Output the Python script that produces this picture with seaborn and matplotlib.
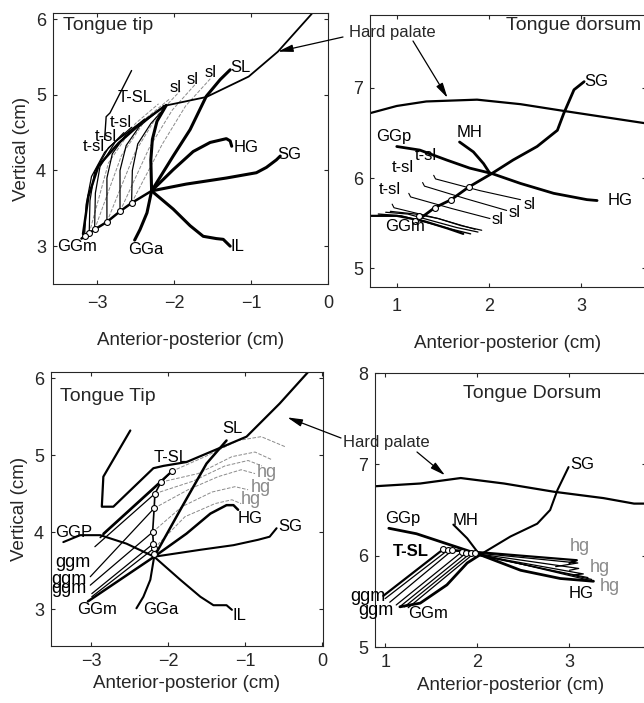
import matplotlib
matplotlib.use("Agg")
import matplotlib.pyplot as plt
import seaborn as sns

# ======================= TOP-LEFT : Tongue tip =======================
TL_PALATE_X = [-0.21, -0.65, -1.03, -1.58, -2.14]
TL_PALATE_Y = [6.07, 5.57, 5.24, 4.97, 4.85]
TL_INCISOR_X = [-2.55, -2.83, -2.88, -2.90]
TL_INCISOR_Y = [5.32, 4.76, 4.71, 4.41]
TL_TIP_X = [-3.18, -3.11, -2.98, -2.72, -2.42, -2.12]
TL_TIP_Y = [3.16, 3.66, 4.06, 4.36, 4.63, 4.85]
TL_GGA_X = [-2.10, -2.22, -2.28, -2.30, -2.29, -2.35, -2.44, -2.51]
TL_GGA_Y = [4.86, 4.65, 4.41, 4.14, 3.73, 3.44, 3.22, 3.08]
TL_GGM_X = [-2.29, -2.55, -2.70, -2.87, -3.03, -3.10, -3.16, -3.20]
TL_GGM_Y = [3.73, 3.57, 3.46, 3.32, 3.22, 3.17, 3.13, 3.10]
TL_SL_X = [-2.29, -2.01, -1.79, -1.58, -1.40, -1.27]
TL_SL_Y = [3.73, 4.19, 4.54, 4.98, 5.20, 5.33]
TL_HG_X = [-2.29, -2.01, -1.75, -1.53, -1.32, -1.27, -1.25]
TL_HG_Y = [3.73, 4.01, 4.25, 4.37, 4.42, 4.39, 4.32]
TL_SG_X = [-2.29, -1.84, -1.32, -0.93, -0.80, -0.67, -0.62]
TL_SG_Y = [3.73, 3.82, 3.90, 3.97, 4.04, 4.14, 4.19]
TL_IL_X = [-2.29, -2.01, -1.79, -1.62, -1.45, -1.36, -1.27]
TL_IL_Y = [3.73, 3.49, 3.27, 3.13, 3.10, 3.09, 3.00]
TL_MARK_X = [-2.55, -2.70, -2.87, -3.03, -3.10, -3.16]
TL_MARK_Y = [3.57, 3.46, 3.32, 3.22, 3.17, 3.13]
# t-sl curves (black, thin)
TL_TSL1_X = [-2.55, -2.54, -2.47, -2.30, -2.14]
TL_TSL1_Y = [3.57, 4.00, 4.35, 4.62, 4.80]
TL_TSL2_X = [-2.70, -2.70, -2.62, -2.45, -2.25]
TL_TSL2_Y = [3.46, 4.00, 4.33, 4.58, 4.75]
TL_TSL3_X = [-2.87, -2.87, -2.80, -2.62, -2.38]
TL_TSL3_Y = [3.32, 3.90, 4.22, 4.48, 4.68]
TL_TSL4_X = [-3.03, -3.02, -2.96, -2.76, -2.45]
TL_TSL4_Y = [3.22, 3.70, 4.05, 4.38, 4.62]
TL_TSL5_X = [-3.10, -3.09, -3.03, -2.85, -2.55]
TL_TSL5_Y = [3.17, 3.60, 3.98, 4.30, 4.57]
TL_TSL6_X = [-3.16, -3.14, -3.07, -2.90, -2.65]
TL_TSL6_Y = [3.13, 3.55, 3.92, 4.24, 4.50]
# sl curves (grey, dashed)
TL_DSL1_X = [-2.55, -2.15, -1.85, -1.52]
TL_DSL1_Y = [3.57, 4.35, 4.85, 5.22]
TL_DSL2_X = [-2.70, -2.32, -2.02, -1.73]
TL_DSL2_Y = [3.46, 4.30, 4.80, 5.13]
TL_DSL3_X = [-2.87, -2.50, -2.20, -1.92]
TL_DSL3_Y = [3.32, 4.25, 4.75, 5.05]
TL_DSL4_X = [-3.03, -2.68, -2.35, -2.05]
TL_DSL4_Y = [3.22, 4.20, 4.70, 4.95]
TL_DSL5_X = [-3.10, -2.85, -2.50, -2.20]
TL_DSL5_Y = [3.17, 4.10, 4.62, 4.88]

# ======================= TOP-RIGHT : Tongue dorsum =======================
TR_PALATE_X = [0.71, 1.00, 1.32, 1.87, 2.34, 2.84, 3.68]
TR_PALATE_Y = [6.72, 6.80, 6.85, 6.87, 6.82, 6.74, 6.61]
TR_SG_X = [1.20, 1.41, 1.59, 1.78, 2.03, 2.26, 2.52, 2.74, 2.81, 2.92, 3.03]
TR_SG_Y = [5.51, 5.67, 5.76, 5.90, 6.05, 6.20, 6.35, 6.53, 6.72, 6.98, 7.07]
TR_GGP_X = [1.00, 1.25, 1.54, 1.79, 2.03, 2.34, 2.70, 3.06, 3.17]
TR_GGP_Y = [6.35, 6.31, 6.20, 6.11, 6.05, 5.94, 5.83, 5.76, 5.75]
TR_MH_X = [1.68, 1.83, 1.94, 2.01]
TR_MH_Y = [6.40, 6.29, 6.16, 6.05]
TR_MARK_X = [1.20, 1.24, 1.41, 1.59, 1.78]
TR_MARK_Y = [5.52, 5.58, 5.67, 5.76, 5.90]
TR_SL1_X = [1.40, 1.42, 1.90, 2.34]
TR_SL1_Y = [6.03, 5.99, 5.86, 5.76]
TR_SL2_X = [1.28, 1.30, 1.75, 2.19]
TR_SL2_Y = [5.95, 5.91, 5.77, 5.64]
TR_SL3_X = [1.13, 1.15, 1.60, 2.01]
TR_SL3_Y = [5.83, 5.79, 5.66, 5.55]
TR_SL4_X = [0.95, 0.97, 1.45, 1.85]
TR_SL4_Y = [5.71, 5.67, 5.55, 5.43]
TR_GGM1_X = [0.71, 1.00, 1.30, 1.55, 1.72]
TR_GGM1_Y = [5.58, 5.58, 5.52, 5.44, 5.38]
TR_GGM2_X = [0.80, 1.05, 1.35, 1.60, 1.80]
TR_GGM2_Y = [5.60, 5.58, 5.50, 5.43, 5.38]
TR_GGM3_X = [0.88, 1.12, 1.40, 1.65, 1.88]
TR_GGM3_Y = [5.62, 5.60, 5.52, 5.45, 5.40]
TR_GGM4_X = [0.93, 1.20, 1.45, 1.70, 1.92]
TR_GGM4_Y = [5.63, 5.60, 5.55, 5.47, 5.42]

# ======================= BOTTOM-LEFT : Tongue Tip =======================
BL_PALATE_X = [-0.18, -0.55, -0.98, -1.50, -1.76, -2.06, -2.19, -2.71, -2.86, -2.84, -2.49]
BL_PALATE_Y = [6.08, 5.67, 5.24, 5.02, 4.91, 4.86, 4.83, 4.33, 4.33, 4.72, 5.32]
BL_SL_X = [-2.18, -1.84, -1.50, -1.24]
BL_SL_Y = [3.68, 4.29, 4.89, 5.19]
BL_HG_X = [-2.18, -1.76, -1.45, -1.24, -1.15, -1.09]
BL_HG_Y = [3.68, 3.98, 4.24, 4.35, 4.35, 4.29]
BL_SG_X = [-2.18, -1.58, -1.15, -0.83, -0.68, -0.59]
BL_SG_Y = [3.68, 3.77, 3.83, 3.90, 3.94, 4.05]
BL_GGPIL_X = [-3.36, -3.14, -2.88, -2.54, -2.18, -1.84, -1.58, -1.41, -1.24, -1.17]
BL_GGPIL_Y = [3.87, 3.96, 3.96, 3.85, 3.68, 3.38, 3.16, 3.05, 3.05, 2.99]
BL_GGA_X = [-2.18, -2.23, -2.32, -2.41]
BL_GGA_Y = [3.68, 3.38, 3.16, 3.01]
BL_GGM_X = [-2.18, -3.04]
BL_GGM_Y = [3.68, 3.10]
BL_MARK_X = [-2.18, -2.18, -2.19, -2.20, -2.18, -2.17, -2.09, -1.95]
BL_MARK_Y = [3.72, 3.79, 3.85, 4.00, 4.31, 4.50, 4.65, 4.79]
BL_F1_X = [-2.84, -1.95]
BL_F1_Y = [3.98, 4.79]
BL_F2_X = [-2.88, -2.09]
BL_F2_Y = [3.93, 4.65]
BL_F3_X = [-2.95, -2.17]
BL_F3_Y = [3.81, 4.50]
BL_F4_X = [-3.01, -2.18]
BL_F4_Y = [3.42, 4.31]
BL_F5_X = [-3.01, -2.20]
BL_F5_Y = [3.31, 4.00]
BL_F6_X = [-2.99, -2.19]
BL_F6_Y = [3.20, 3.85]
BL_F7_X = [-2.99, -2.18]
BL_F7_Y = [3.16, 3.79]
BL_H1_X = [-1.95, -1.52, -1.09, -0.79, -0.48]
BL_H1_Y = [4.79, 4.98, 5.19, 5.24, 5.11]
BL_H2_X = [-2.09, -1.61, -1.17, -0.87, -0.65]
BL_H2_Y = [4.65, 4.76, 4.98, 5.04, 4.94]
BL_H3_X = [-2.17, -1.68, -1.26, -0.96, -0.78]
BL_H3_Y = [4.50, 4.66, 4.86, 4.93, 4.86]
BL_H4_X = [-2.18, -1.74, -1.35, -1.05, -0.87]
BL_H4_Y = [4.31, 4.55, 4.72, 4.81, 4.76]
BL_H5_X = [-2.20, -1.82, -1.43, -1.13, -0.96]
BL_H5_Y = [4.00, 4.33, 4.52, 4.59, 4.55]
BL_H6_X = [-2.18, -1.78, -1.39, -1.17, -1.05]
BL_H6_Y = [3.79, 4.20, 4.37, 4.42, 4.37]

# ======================= BOTTOM-RIGHT : Tongue Dorsum =======================
BR_PALATE_X = [0.89, 1.38, 1.82, 2.29, 2.83, 3.37, 3.70, 3.83]
BR_PALATE_Y = [6.76, 6.79, 6.85, 6.79, 6.70, 6.63, 6.57, 6.57]
BR_GGM_X = [1.16, 1.38, 1.67, 1.89, 2.03]
BR_GGM_Y = [5.44, 5.48, 5.68, 5.92, 6.01]
BR_SG_X = [2.03, 2.36, 2.65, 2.79, 2.87, 2.99]
BR_SG_Y = [6.01, 6.21, 6.35, 6.50, 6.72, 6.97]
BR_GGP_X = [1.04, 1.34, 1.67, 2.03, 2.47, 2.90, 3.26]
BR_GGP_Y = [6.30, 6.24, 6.13, 6.01, 5.84, 5.75, 5.72]
BR_MH_X = [1.74, 1.89, 2.01]
BR_MH_Y = [6.34, 6.19, 6.03]
BR_MARK_X = [1.63, 1.68, 1.73, 1.83, 1.88, 1.93, 1.97]
BR_MARK_Y = [6.07, 6.06, 6.06, 6.04, 6.03, 6.03, 6.03]
BR_L1_X = [0.98, 1.63, 3.08, 3.00]
BR_L1_Y = [5.56, 6.07, 5.95, 5.92]
BR_L2_X = [1.00, 1.68, 3.09, 2.85]
BR_L2_Y = [5.53, 6.06, 5.92, 5.88]
BR_L3_X = [1.05, 1.73, 3.10, 3.00]
BR_L3_Y = [5.49, 6.06, 5.86, 5.84]
BR_L4_X = [1.12, 1.83, 3.15, 3.05]
BR_L4_Y = [5.46, 6.04, 5.80, 5.79]
BR_L5_X = [1.17, 1.88, 3.20]
BR_L5_Y = [5.45, 6.03, 5.76]
BR_L6_X = [1.21, 1.93, 3.24]
BR_L6_Y = [5.44, 6.03, 5.74]
BR_L7_X = [1.25, 1.97, 3.26]
BR_L7_Y = [5.43, 6.03, 5.72]

# ---------------------------------------------------------------------------
sns.set_style("ticks")
plt.rcParams["font.family"] = ["Liberation Sans", "DejaVu Sans"]
plt.rcParams["xtick.direction"] = "in"
plt.rcParams["ytick.direction"] = "in"
plt.rcParams["xtick.top"] = True
plt.rcParams["ytick.right"] = True

W, H = 644, 703
fig = plt.figure(figsize=(W / 100, H / 100), dpi=100)


def axes_px(l, t, r, b):
    return fig.add_axes([l / W, 1 - b / H, (r - l) / W, (b - t) / H])


ax_tl = axes_px(53, 13, 328, 284)
ax_tr = axes_px(370, 15, 646, 287)
ax_bl = axes_px(51, 372, 323, 646)
ax_br = axes_px(375, 373, 646, 647)

GREY = "#8a8a8a"


def ln(ax, xs, ys, lw=1.0, color="k", ls="-", z=2):
    sns.lineplot(x=xs, y=ys, sort=False, estimator=None, color=color,
                 linewidth=lw, linestyle=ls, ax=ax, zorder=z)


def marks(ax, xs, ys):
    sns.scatterplot(x=xs, y=ys, s=18, facecolor="white", edgecolor="k",
                    linewidth=0.8, ax=ax, zorder=5)


def lab(ax, x, y, s, size=12, color="k", **kw):
    ax.text(x, y, s, fontsize=size, color=color, ha=kw.pop("ha", "left"),
            va=kw.pop("va", "center"), zorder=6, **kw)


# ---------------- TL ----------------
ax = ax_tl
for xs, ys in [(TL_DSL1_X, TL_DSL1_Y), (TL_DSL2_X, TL_DSL2_Y), (TL_DSL3_X, TL_DSL3_Y),
               (TL_DSL4_X, TL_DSL4_Y), (TL_DSL5_X, TL_DSL5_Y)]:
    ln(ax, xs, ys, lw=0.7, color=GREY, ls="--", z=1)
for xs, ys in [(TL_TSL1_X, TL_TSL1_Y), (TL_TSL2_X, TL_TSL2_Y), (TL_TSL3_X, TL_TSL3_Y),
               (TL_TSL4_X, TL_TSL4_Y), (TL_TSL5_X, TL_TSL5_Y), (TL_TSL6_X, TL_TSL6_Y)]:
    ln(ax, xs, ys, lw=0.9)
ln(ax, TL_PALATE_X, TL_PALATE_Y, lw=1.3)
ln(ax, TL_INCISOR_X, TL_INCISOR_Y, lw=1.0)
ln(ax, TL_TIP_X, TL_TIP_Y, lw=1.8)
ln(ax, TL_GGA_X, TL_GGA_Y, lw=2.2)
ln(ax, TL_GGM_X, TL_GGM_Y, lw=1.8)
ln(ax, TL_SL_X, TL_SL_Y, lw=2.2)
ln(ax, TL_HG_X, TL_HG_Y, lw=2.2)
ln(ax, TL_SG_X, TL_SG_Y, lw=2.2)
ln(ax, TL_IL_X, TL_IL_Y, lw=2.2)
marks(ax, TL_MARK_X, TL_MARK_Y)
ax.text(0.036, 0.955, "Tongue tip", transform=ax.transAxes, fontsize=14, va="center")
lab(ax, -2.73, 4.97, "T-SL")
lab(ax, -2.83, 4.63, "t-sl")
lab(ax, -3.03, 4.45, "t-sl")
lab(ax, -3.18, 4.32, "t-sl")
lab(ax, -2.05, 5.10, "sl")
lab(ax, -1.83, 5.20, "sl")
lab(ax, -1.60, 5.29, "sl")
lab(ax, -1.27, 5.36, "SL")
lab(ax, -1.23, 4.30, "HG")
lab(ax, -0.66, 4.21, "SG")
lab(ax, -1.27, 2.99, "IL")
lab(ax, -3.52, 3.00, "GGm")
lab(ax, -2.60, 2.95, "GGa")
ax.set_xlim(-3.57, 0)
ax.set_ylim(2.5, 6.08)

# ---------------- TR ----------------
ax = ax_tr
ln(ax, TR_PALATE_X, TR_PALATE_Y, lw=1.6)
for xs, ys in [(TR_SL1_X, TR_SL1_Y), (TR_SL2_X, TR_SL2_Y), (TR_SL3_X, TR_SL3_Y), (TR_SL4_X, TR_SL4_Y)]:
    ln(ax, xs, ys, lw=0.8)
for xs, ys, w in [(TR_GGM1_X, TR_GGM1_Y, 1.6), (TR_GGM2_X, TR_GGM2_Y, 1.0),
                  (TR_GGM3_X, TR_GGM3_Y, 0.9), (TR_GGM4_X, TR_GGM4_Y, 0.9)]:
    ln(ax, xs, ys, lw=w)
ln(ax, TR_SG_X, TR_SG_Y, lw=2.0)
ln(ax, TR_GGP_X, TR_GGP_Y, lw=2.0)
ln(ax, TR_MH_X, TR_MH_Y, lw=2.0)
marks(ax, TR_MARK_X, TR_MARK_Y)
ax.text(0.982, 0.963, "Tongue dorsum", transform=ax.transAxes, fontsize=14,
        va="center", ha="right")
lab(ax, 3.03, 7.07, "SG")
lab(ax, 0.78, 6.46, "GGp")
lab(ax, 1.65, 6.51, "MH")
lab(ax, 3.28, 5.75, "HG")
lab(ax, 1.20, 6.25, "t-sl")
lab(ax, 0.95, 6.12, "t-sl")
lab(ax, 0.80, 5.87, "t-sl")
lab(ax, 2.37, 5.71, "sl")
lab(ax, 2.21, 5.62, "sl")
lab(ax, 2.03, 5.54, "sl")
lab(ax, 0.87, 5.46, "GGm")
ax.set_xlim(0.71, 3.70)
ax.set_ylim(4.79, 7.81)

# ---------------- BL ----------------
ax = ax_bl
for xs, ys in [(BL_H1_X, BL_H1_Y), (BL_H2_X, BL_H2_Y), (BL_H3_X, BL_H3_Y),
               (BL_H4_X, BL_H4_Y), (BL_H5_X, BL_H5_Y), (BL_H6_X, BL_H6_Y)]:
    ln(ax, xs, ys, lw=0.7, color=GREY, ls="--", z=1)
for xs, ys, w in [(BL_F1_X, BL_F1_Y, 1.6), (BL_F2_X, BL_F2_Y, 1.2), (BL_F3_X, BL_F3_Y, 0.9),
                  (BL_F4_X, BL_F4_Y, 0.9), (BL_F5_X, BL_F5_Y, 0.9), (BL_F6_X, BL_F6_Y, 0.9),
                  (BL_F7_X, BL_F7_Y, 0.9)]:
    ln(ax, xs, ys, lw=w)
ln(ax, BL_PALATE_X, BL_PALATE_Y, lw=1.6)
ln(ax, BL_SL_X, BL_SL_Y, lw=1.8)
ln(ax, BL_HG_X, BL_HG_Y, lw=1.8)
ln(ax, BL_SG_X, BL_SG_Y, lw=1.5)
ln(ax, BL_GGPIL_X, BL_GGPIL_Y, lw=1.5)
ln(ax, BL_GGA_X, BL_GGA_Y, lw=1.5)
ln(ax, BL_GGM_X, BL_GGM_Y, lw=1.8)
ln(ax, BL_MARK_X, BL_MARK_Y, lw=1.2)
marks(ax, BL_MARK_X, BL_MARK_Y)
ax.text(0.033, 0.909, "Tongue Tip", transform=ax.transAxes, fontsize=14, va="center")
lab(ax, -2.19, 4.97, "T-SL")
lab(ax, -1.29, 5.35, "SL")
lab(ax, -1.10, 4.18, "HG")
lab(ax, -0.57, 4.07, "SG")
lab(ax, -1.16, 2.92, "IL")
lab(ax, -2.32, 2.99, "GGa")
lab(ax, -3.18, 2.99, "GGm")
lab(ax, -3.47, 4.00, "GGP")
lab(ax, -3.47, 3.60, "ggm", size=13)
lab(ax, -3.52, 3.38, "ggm", size=13)
lab(ax, -3.52, 3.27, "ggm", size=13)
lab(ax, -0.85, 4.78, "hg", color=GREY, size=13)
lab(ax, -0.93, 4.58, "hg", color=GREY, size=13)
lab(ax, -1.05, 4.42, "hg", color=GREY, size=13)
ax.set_xlim(-3.52, 0.013)
ax.set_ylim(2.52, 6.08)

# ---------------- BR ----------------
ax = ax_br
ln(ax, BR_PALATE_X, BR_PALATE_Y, lw=1.6)
for xs, ys, w in [(BR_L1_X, BR_L1_Y, 1.6), (BR_L2_X, BR_L2_Y, 0.9), (BR_L3_X, BR_L3_Y, 0.9),
                  (BR_L4_X, BR_L4_Y, 0.9), (BR_L5_X, BR_L5_Y, 0.9), (BR_L6_X, BR_L6_Y, 0.9),
                  (BR_L7_X, BR_L7_Y, 0.9)]:
    ln(ax, xs, ys, lw=w)
ln(ax, BR_GGM_X, BR_GGM_Y, lw=2.0)
ln(ax, BR_SG_X, BR_SG_Y, lw=1.5)
ln(ax, BR_GGP_X, BR_GGP_Y, lw=2.0)
ln(ax, BR_MH_X, BR_MH_Y, lw=1.5)
marks(ax, BR_MARK_X, BR_MARK_Y)
ax.text(0.578, 0.927, "Tongue Dorsum", transform=ax.transAxes, fontsize=14,
        va="center", ha="center")
lab(ax, 3.01, 7.00, "SG")
lab(ax, 1.00, 6.41, "GGp")
lab(ax, 1.73, 6.39, "MH")
lab(ax, 1.08, 6.05, "T-SL", weight="bold")
lab(ax, 2.99, 5.59, "HG")
lab(ax, 3.00, 6.10, "hg", color=GREY, size=13)
lab(ax, 3.22, 5.87, "hg", color=GREY, size=13)
lab(ax, 3.33, 5.66, "hg", color=GREY, size=13)
lab(ax, 0.62, 5.55, "ggm", size=13)
lab(ax, 0.71, 5.40, "ggm", size=13)
lab(ax, 1.25, 5.37, "GGm")
ax.set_xlim(0.89, 3.83)
ax.set_ylim(5.0, 8.0)

# ---------------- common axes styling ----------------
for ax in (ax_tl, ax_tr, ax_bl, ax_br):
    for sp in ax.spines.values():
        sp.set_visible(True)
        sp.set_linewidth(0.8)
    ax.tick_params(labelsize=13, length=3, width=0.8, pad=5)
ax_tl.tick_params(axis="x", pad=8)
ax_tr.tick_params(axis="x", pad=8)
ax_tl.set_xticks([-3, -2, -1, 0])
ax_tl.set_yticks([3, 4, 5, 6])
ax_tr.set_xticks([1, 2, 3])
ax_tr.set_yticks([5, 6, 7])
ax_bl.set_xticks([-3, -2, -1, 0])
ax_bl.set_yticks([3, 4, 5, 6])
ax_br.set_xticks([1, 2, 3])
ax_br.set_yticks([5, 6, 7, 8])

for ax in (ax_tl, ax_tr):
    ax.set_xlabel("Anterior-posterior (cm)", fontsize=13.5, labelpad=14)
for ax in (ax_bl, ax_br):
    ax.set_xlabel("Anterior-posterior (cm)", fontsize=13.5, labelpad=4)
ax_tl.set_ylabel("Vertical (cm)", fontsize=13.5, labelpad=4)
ax_bl.set_ylabel("Vertical (cm)", fontsize=13.5, labelpad=4)
ax_tr.set_ylabel("")
ax_br.set_ylabel("")

# ---------------- Hard palate annotations ----------------
AP = dict(arrowstyle="-|>,head_length=0.9,head_width=0.22", color="k", lw=0.9,
          shrinkA=0, shrinkB=0)
fig.text(392 / W, 1 - 33 / H, "Hard palate", fontsize=12, ha="center", va="center")
ax_tl.annotate("", xy=(-0.65, 5.57), xycoords="data", xytext=(343 / W, 1 - 37 / H),
               textcoords="figure fraction", arrowprops=AP, annotation_clip=False)
ax_tr.annotate("", xy=(1.55, 6.89), xycoords="data", xytext=(413 / W, 1 - 41 / H),
               textcoords="figure fraction", arrowprops=AP, annotation_clip=False)
fig.text(386 / W, 1 - 443 / H, "Hard palate", fontsize=12, ha="center", va="center")
ax_bl.annotate("", xy=(-0.45, 5.49), xycoords="data", xytext=(341 / W, 1 - 438 / H),
               textcoords="figure fraction", arrowprops=AP, annotation_clip=False)
ax_br.annotate("", xy=(1.65, 6.88), xycoords="data", xytext=(417 / W, 1 - 452 / H),
               textcoords="figure fraction", arrowprops=AP, annotation_clip=False)

fig.savefig("out.png", dpi=100)
